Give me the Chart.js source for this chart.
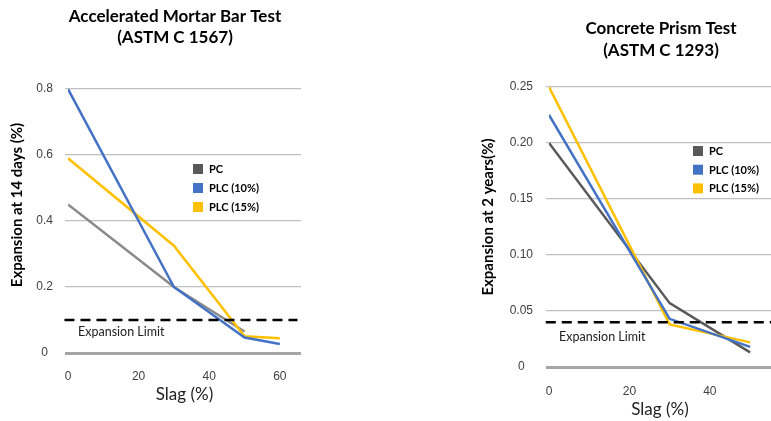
<!DOCTYPE html>
<html>
<head>
<meta charset="utf-8">
<script src="https://cdn.jsdelivr.net/npm/chart.js@4.4.1/dist/chart.umd.min.js"></script>
<style>
  html, body { margin: 0; padding: 0; background: #ffffff; }
  #wrap { position: relative; width: 771px; height: 421px; overflow: hidden; }
  canvas { position: absolute; top: 0; }
  #c1 { left: 0; }
  #c2 { left: 350px; }
</style>
</head>
<body>
<div id="wrap">
  <canvas id="c1" width="350" height="421"></canvas>
  <canvas id="c2" width="421" height="421"></canvas>
</div>
<script>
// ---------- Data: Accelerated Mortar Bar Test (ASTM C 1567) ----------
const mbSlag = [0, 30, 50, 60];
const mbPC = [0.45, 0.20, 0.065, null];
const mbPLC10 = [0.80, 0.20, 0.047, 0.027];
const mbPLC15 = [0.59, 0.325, 0.051, 0.045];
const mbLimit = 0.1;
const mbXTicks = [0, 20, 40, 60];
const mbYTicks = [0, 0.2, 0.4, 0.6, 0.8];
const mbYLabels = ['0', '0.2', '0.4', '0.6', '0.8'];

// ---------- Data: Concrete Prism Test (ASTM C 1293) ----------
const cpSlag = [0, 30, 50];
const cpPC = [0.20, 0.057, 0.013];
const cpPLC10 = [0.225, 0.043, 0.018];
const cpPLC15 = [0.25, 0.038, 0.022];
const cpLimit = 0.04;
const cpXTicks = [0, 20, 40];
const cpYTicks = [0, 0.05, 0.10, 0.15, 0.20, 0.25];
const cpYLabels = ['0', '0.05', '0.10', '0.15', '0.20', '0.25'];

const seriesNames = ['PC', 'PLC (10%)', 'PLC (15%)'];
const limitLabel = 'Expansion Limit';

const BLUE = '#4472C4', YELLOW = '#FFC000', DGRAY = '#595959', LGRAY = '#8a8a8a';

function pts(xs, ys) {
  const out = [];
  xs.forEach((x, i) => { if (ys[i] !== null && ys[i] !== undefined) out.push({ x: x, y: ys[i] }); });
  return out;
}

// Plugin: chart title, rotated y title, legend, limit label
const extras = {
  id: 'extras',
  afterDraw(chart, args, o) {
    const ctx = chart.ctx;
    ctx.save();
    ctx.font = 'bold 17px Lato';
    ctx.fillStyle = '#000';
    ctx.textAlign = 'center';
    ctx.textBaseline = 'middle';
    o.title.forEach((t, i) => ctx.fillText(t, o.titleX, o.titleY[i]));
    ctx.restore();

    ctx.save();
    ctx.font = 'bold 15px Lato';
    ctx.fillStyle = '#000';
    ctx.textAlign = 'center';
    ctx.textBaseline = 'middle';
    ctx.translate(o.yTitleX, o.yTitleY);
    ctx.rotate(-Math.PI / 2);
    ctx.fillText(o.yTitle, 0, 0);
    ctx.restore();

    ctx.save();
    ctx.font = '12.5px Lato';
    ctx.fillStyle = '#222';
    ctx.textAlign = 'left';
    ctx.textBaseline = 'middle';
    ctx.fillText(o.limitText, o.limitX, o.limitY);
    ctx.restore();

    ctx.save();
    ctx.font = 'bold 11px Lato';
    ctx.textAlign = 'left';
    ctx.textBaseline = 'middle';
    o.legendColors.forEach((c, i) => {
      const y = o.legendY + i * o.legendGap;
      ctx.fillStyle = c;
      ctx.fillRect(o.legendX, y - 5, 10, 10);
      ctx.fillStyle = '#000';
      ctx.fillText(seriesNames[i], o.legendX + 16, y + 0.5);
    });
    ctx.restore();
  }
};

function makeChart(id, cfg) {
  const lineDs = (label, data, color) => ({
    label: label, data: data, borderColor: color, backgroundColor: color,
    borderWidth: 2.5, pointRadius: 0, tension: 0, fill: false
  });
  return new Chart(document.getElementById(id), {
    type: 'line',
    data: {
      datasets: [
        {
          label: limitLabel,
          data: [{ x: cfg.limitFrom, y: cfg.limit }, { x: cfg.limitTo, y: cfg.limit }],
          borderColor: '#000', borderWidth: 2.5, borderDash: [10, 6],
          pointRadius: 0, clip: false, fill: false
        },
        lineDs(seriesNames[1], pts(cfg.x, cfg.plc10), BLUE),
        lineDs(seriesNames[2], pts(cfg.x, cfg.plc15), YELLOW),
        lineDs(seriesNames[0], pts(cfg.x, cfg.pc), cfg.pcColor)
      ]
    },
    plugins: [extras],
    options: {
      responsive: false,
      animation: false,
      devicePixelRatio: 1,
      layout: { padding: cfg.padding },
      plugins: {
        legend: { display: false },
        tooltip: { enabled: false },
        title: { display: false },
        extras: cfg.extras
      },
      scales: {
        x: {
          type: 'linear',
          min: 0, max: cfg.xMax,
          afterBuildTicks: (s) => { s.ticks = cfg.xTicks.map(v => ({ value: v })); },
          afterFit: (s) => { s.height = cfg.xHeight; },
          grid: { display: false, drawTicks: false },
          border: { display: false },
          ticks: {
            padding: cfg.xTickPad, maxRotation: 0, autoSkip: false,
            color: '#404040', font: { family: 'Liberation Sans', size: 12 },
            callback: (v) => String(v)
          },
          title: {
            display: true, text: 'Slag (%)', color: '#222',
            font: { family: 'Lato', size: 17 },
            padding: { top: 0, bottom: cfg.xTitlePad }
          }
        },
        y: {
          min: 0, max: cfg.yMax,
          afterBuildTicks: (s) => { s.ticks = cfg.yTicks.map(v => ({ value: v })); },
          afterFit: (s) => { s.width = cfg.yWidth; },
          border: { display: false },
          grid: {
            color: (c) => c.tick && c.tick.value === 0 ? '#a6a6a6' : '#bfbfbf',
            lineWidth: (c) => c.tick && c.tick.value === 0 ? 3 : 1.2,
            tickLength: 3,
            drawTicks: true
          },
          ticks: {
            crossAlign: 'center', padding: cfg.yTickPad, autoSkip: false,
            color: '#404040', font: { family: 'Liberation Sans', size: 12 },
            callback: (v) => { const i = cfg.yTicks.indexOf(v); return i >= 0 ? cfg.yLabels[i] : ''; }
          }
        }
      }
    }
  });
}

makeChart('c1', {
  padding: { left: 0, right: 49, top: 89, bottom: 0 },
  x: mbSlag, pc: mbPC, plc10: mbPLC10, plc15: mbPLC15, pcColor: LGRAY,
  limit: mbLimit, limitFrom: -1, limitTo: 65,
  xMax: 66, xTicks: mbXTicks, xHeight: 68, xTickPad: 16, xTitlePad: 16,
  yMax: 0.8, yTicks: mbYTicks, yLabels: mbYLabels, yWidth: 68, yTickPad: 12,
  extras: {
    title: ['Accelerated Mortar Bar Test', '(ASTM C 1567)'], titleX: 175, titleY: [17, 38],
    yTitle: 'Expansion at 14 days (%)', yTitleX: 17, yTitleY: 205,
    limitText: limitLabel, limitX: 78, limitY: 332,
    legendColors: [DGRAY, BLUE, YELLOW], legendX: 193, legendY: 169, legendGap: 19
  }
});

makeChart('c2', {
  padding: { left: 120, right: 0, top: 87, bottom: 0 },
  x: cpSlag, pc: cpPC, plc10: cpPLC10, plc15: cpPLC15, pcColor: DGRAY,
  limit: cpLimit, limitFrom: -0.8, limitTo: 56,
  xMax: 55.2, xTicks: cpXTicks, xHeight: 54, xTickPad: 17, xTitlePad: 1.4,
  yMax: 0.25, yTicks: cpYTicks, yLabels: cpYLabels, yWidth: 79, yTickPad: 13,
  extras: {
    title: ['Concrete Prism Test', '(ASTM C 1293)'], titleX: 311, titleY: [29, 51],
    yTitle: 'Expansion at 2 years(%)', yTitleX: 138, yTitleY: 217,
    limitText: limitLabel, limitX: 209, limitY: 337,
    legendColors: [DGRAY, BLUE, YELLOW], legendX: 343, legendY: 151, legendGap: 18.7
  }
});
</script>
</body>
</html>
